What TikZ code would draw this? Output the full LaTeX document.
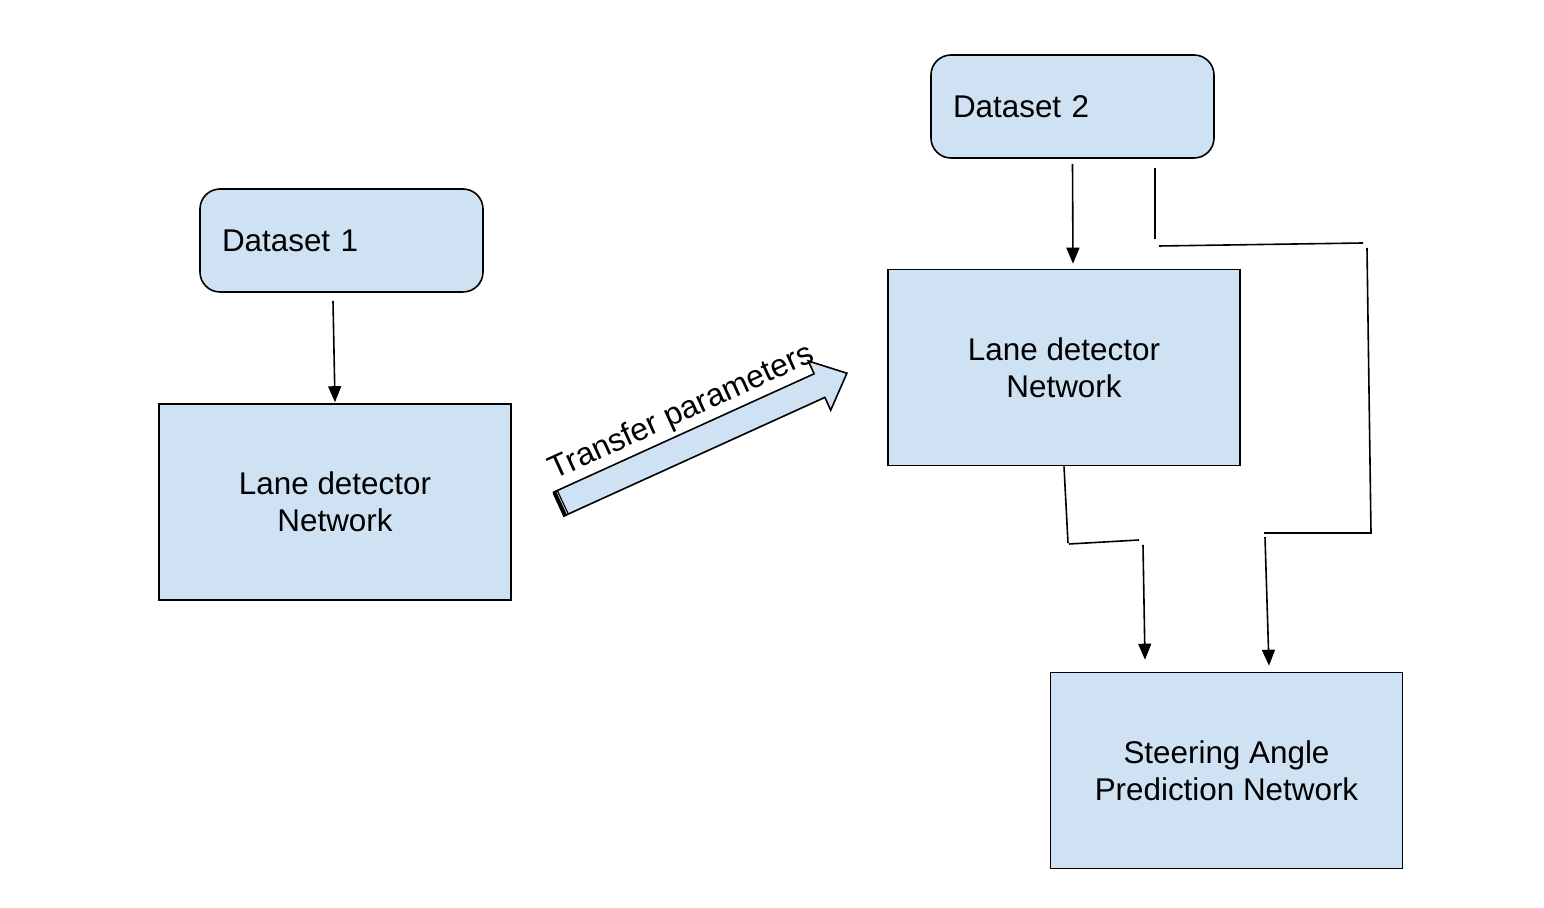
\documentclass[tikz,border=0pt]{standalone}
\usepackage{fontspec}
\setmainfont{Liberation Sans}
\usetikzlibrary{arrows.meta, positioning}
\definecolor{boxblue}{HTML}{CFE2F3}

\begin{document}
\begin{tikzpicture}[
x=0.5pt, y=-0.5pt,
box/.style={draw, fill=boxblue, line width=0.8pt, minimum width=176pt, minimum height=98pt, align=center, font=\fontsize{15.7}{18.5}\selectfont},
dbox/.style={draw, fill=boxblue, line width=0.8pt, rounded corners=10pt, minimum height=51.5pt, text width=119.5pt, inner xsep=11pt, align=left, font=\fontsize{15.7}{18.5}\selectfont},
arr/.style={-{Triangle[length=8pt, width=6.5pt]}, line width=0.8pt},
wire/.style={line width=0.8pt}
]
\useasboundingbox (0,0) rectangle (1544,908);

% boxes
\node[dbox] (d1) at (341.5,240.5) {Dataset 1};
\node[box] (ln1) at (335,502) {Lane detector\\Network};
\node[dbox] (d2) at (1072.5,106.5) {Dataset 2};
\node[box] (ln2) at (1064,367.5) {Lane detector\\Network};
\node[box] (st) at (1226.5,770.5) {Steering Angle\\Prediction Network};

% transfer arrow
\filldraw[fill=boxblue, line width=0.8pt] (553.6,492.2) -- (814.1,373.8) -- (808.3,361) -- (846.9,373.2)
  -- (830.7,410.2) -- (824.9,397.4) -- (564.4,515.8) -- cycle;
\draw[line width=2pt] (554.5,492.6) -- (565.3,516.2);
\draw[line width=0.6pt] (557.5,491) -- (568.5,514.5);
\node[rotate=24.5, font=\fontsize{15.9}{19}\selectfont] (tp) at (682,413) {Transfer parameters};

% bend points
\coordinate (a1) at (1155,168);
\coordinate (a2) at (1155,239);
\coordinate (b1) at (1159,246);
\coordinate (b2) at (1363,243);
\coordinate (c1) at (1367,248);
\coordinate (c2) at (1371,533);
\coordinate (c3) at (1264,533);
\coordinate (e1) at (1265,537);
\coordinate (f1) at (1068,543);
\coordinate (f2) at (1069,544);
\coordinate (f3) at (1139,540);
\coordinate (g1) at (1143,545);

% connectors
\draw[arr] ([xshift=-4.25pt, yshift=-4pt]d1.south) -- ([yshift=0.5pt]ln1.north);
\draw[arr] ([yshift=-2.5pt]d2.south) -- ([xshift=4.5pt, yshift=2.5pt]ln2.north);
\draw[wire] (a1) -- (a2);
\draw[wire] (b1) -- (b2);
\draw[wire] (c1) -- (c2) -- (c3);
\draw[arr] (e1) -- ([xshift=21.25pt, yshift=3pt]st.north);
\draw[wire] (ln2.south) -- (f1);
\draw[wire] (f2) -- (f3);
\draw[arr] (g1) -- ([xshift=-40.75pt, yshift=6pt]st.north);
\end{tikzpicture}
\end{document}
